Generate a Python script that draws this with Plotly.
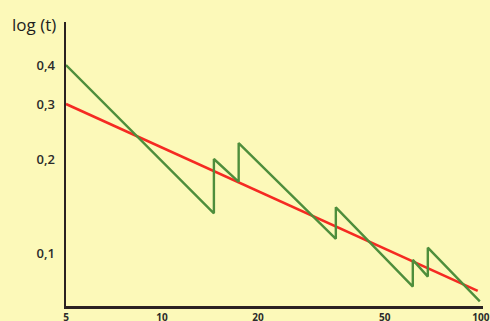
import math
import plotly.graph_objects as go

# Data
green_x = [5, 14.55, 14.55, 17.4, 17.4, 35.1, 35.1, 61.2, 61.2, 68.2, 68.2, 99.3]
green_y = [0.40, 0.134, 0.20, 0.169, 0.225, 0.111, 0.140, 0.078, 0.095, 0.084, 0.104, 0.070]
red_x = [5, 97.8]
red_y = [0.30, 0.0756]

x_tickvals = [5, 10, 20, 50, 100]
x_ticktext = ["5", "10", "20", "50", "100"]
y_tickvals = [0.1, 0.2, 0.3, 0.4]
y_ticktext = ["0,1", "0,2", "0,3", "0,4"]

BG = "#FCF9B9"
AXIS = "#2b2222"
FONT = "Open Sans"

fig = go.Figure()
fig.add_trace(go.Scatter(x=red_x, y=red_y, mode="lines",
                         line=dict(color="#F52A22", width=2.6), hoverinfo="skip"))
fig.add_trace(go.Scatter(x=green_x, y=green_y, mode="lines",
                         line=dict(color="#4E8E3C", width=2.4), hoverinfo="skip"))

fig.update_layout(
    width=490, height=321,
    margin=dict(l=66, r=7, t=22, b=15),
    paper_bgcolor=BG, plot_bgcolor=BG,
    showlegend=False,
    xaxis=dict(type="log", range=[math.log10(5), math.log10(101.6)],
               tickvals=x_tickvals, ticktext=x_ticktext, automargin=False,
               showgrid=False, zeroline=False, showline=True,
               linecolor=AXIS, linewidth=3, ticks="", ticklen=0,
               ticklabelstandoff=0,
               tickfont=dict(family=FONT, size=10, color="#2b2b2b", weight=700)),
    yaxis=dict(type="log", range=[-1.170, -0.260],
               tickvals=y_tickvals, ticktext=y_ticktext, automargin=False,
               showgrid=False, zeroline=False, showline=True,
               linecolor=AXIS, linewidth=2.5, ticks="",
               ticklabelstandoff=6,
               tickfont=dict(family=FONT, size=13, color="#2b2b2b", weight=600)),
    annotations=[dict(text="log (t)", xref="paper", yref="paper",
                      x=-0.135, y=1.0, xanchor="left", yanchor="bottom",
                      yshift=-16, showarrow=False,
                      font=dict(family=FONT, size=17, color="#1e1e1e"))],
)

fig.write_html("out.html",
               config={"displayModeBar": False, "staticPlot": True},
               post_script="document.body.style.margin='0';document.body.style.overflow='hidden';")
